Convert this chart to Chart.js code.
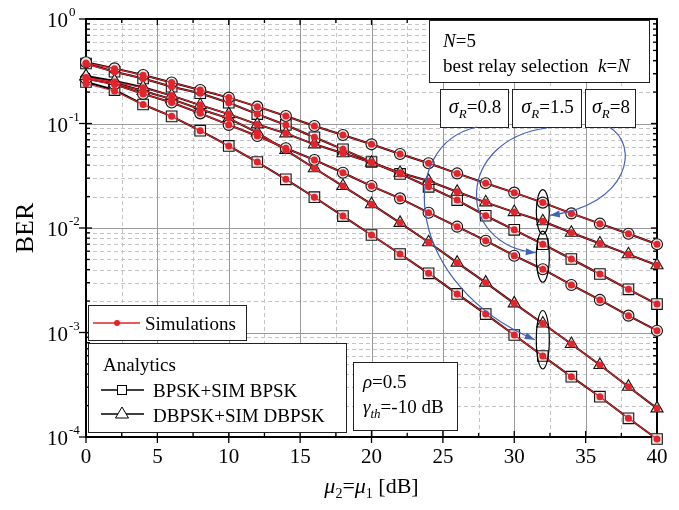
<!DOCTYPE html>
<html><head><meta charset="utf-8">
<script src="https://cdn.jsdelivr.net/npm/chart.js@4.4.1/dist/chart.umd.min.js"></script>
<style>html,body{margin:0;padding:0;background:#fff}#wrap{width:679px;height:510px}</style>
</head><body><div id="wrap"><canvas id="c" width="679" height="510"></canvas></div>
<script>
// ---------- data ----------
const snrDb = [0,2,4,6,8,10,12,14,16,18,20,22,24,26,28,30,32,34,36,38,40];
const xTickLabels = [0,5,10,15,20,25,30,35,40];
const yTickExponents = [0,-1,-2,-3,-4];

// analytic curves (markers as in the figure)
const sig8Circ  = [0.385,0.337,0.291,0.247,0.209,0.177,0.145,0.118,0.0946,0.0776,0.0632,0.051,0.0416,0.0333,0.0268,0.0218,0.0175,0.0138,0.0110,0.0088,0.0070];
const sig8Tri   = [0.285,0.255,0.222,0.185,0.150,0.123,0.098,0.0805,0.0632,0.0519,0.0422,0.0338,0.0282,0.0222,0.0176,0.0142,0.0116,0.0090,0.0071,0.0056,0.0044];
const sig15Sq   = [0.375,0.313,0.270,0.225,0.195,0.158,0.123,0.0968,0.0738,0.0566,0.0428,0.0329,0.0248,0.0185,0.0131,0.0096,0.0070,0.00505,0.00363,0.00259,0.00187];
const sig15Circ = [0.270,0.237,0.192,0.159,0.125,0.097,0.076,0.058,0.0448,0.0338,0.0252,0.0192,0.0140,0.0103,0.00756,0.00543,0.00403,0.00285,0.00205,0.00145,0.00104];
const sig08Tri  = [0.280,0.245,0.205,0.171,0.137,0.112,0.082,0.0557,0.0373,0.0252,0.0169,0.0112,0.0073,0.00466,0.0030,0.0019,0.00122,0.000776,0.000489,0.000303,0.000188];
const sig08Sq   = [0.250,0.209,0.152,0.117,0.0853,0.061,0.0428,0.0292,0.0197,0.0130,0.00857,0.00564,0.00368,0.00234,0.00150,0.000946,0.000596,0.000378,0.000243,0.000151,0.0000957];

// simulations
const simSig8Circ  = [0.380,0.335,0.290,0.247,0.209,0.177,0.145,0.118,0.0946,0.0776,0.0632,0.051,0.0416,0.0333,0.0268,0.0218,0.0175,0.0138,0.0110,0.0088,0.0070];
const simSig8Tri   = [0.275,0.250,0.220,0.185,0.150,0.123,0.098,0.0805,0.0632,0.0519,0.0422,0.0338,0.0282,0.0222,0.0176,0.0142,0.0116,0.0090,0.0071,0.0056,0.0044];
const simSig15Sq   = [0.370,0.312,0.270,0.225,0.195,0.158,0.123,0.0968,0.0738,0.0566,0.0428,0.0329,0.0248,0.0185,0.0131,0.0096,0.0070,0.00505,0.00363,0.00259,0.00187];
const simSig15Circ = [0.265,0.236,0.192,0.159,0.125,0.097,0.076,0.058,0.0448,0.0338,0.0252,0.0192,0.0140,0.0103,0.00756,0.00543,0.00403,0.00285,0.00205,0.00145,0.00104];
const simSig08Tri  = [0.272,0.243,0.205,0.171,0.137,0.112,0.082,0.0557,0.0373,0.0252,0.0169,0.0112,0.0073,0.00466,0.0030,0.0019,0.00122,0.000776,0.000489,0.000303,0.000188];
const simSig08Sq   = [0.240,0.205,0.152,0.117,0.0853,0.061,0.0428,0.0292,0.0197,0.0130,0.00857,0.00564,0.00368,0.00234,0.00150,0.000946,0.000596,0.000378,0.000243,0.000151,0.0000957];

const ellipseX = 32; // SNR where the groups are marked

// ---------- helpers ----------
const SERIF = '"Liberation Serif","Times New Roman",serif';
const RED = '#e3242b', BLUE = '#4462b4';
function fnt(s, it){ return (it?'italic ':'') + s + 'px ' + SERIF; }
function rich(ctx, x, y, parts, align, base){
  base = base || 19;
  let w = 0;
  for (const p of parts){ ctx.font = fnt(p.s||base, p.i); w += ctx.measureText(p.t).width; }
  let cx = align==='right' ? x-w : align==='center' ? x-w/2 : x;
  for (const p of parts){ ctx.font = fnt(p.s||base, p.i); ctx.fillText(p.t, cx, y+(p.dy||0)); cx += ctx.measureText(p.t).width; }
}
const pts = arr => snrDb.map((x,i)=>({x:x, y:arr[i]}));
function ana(arr, style, r){
  return {data:pts(arr), borderColor:'#000', borderWidth:2, pointStyle:style, pointRadius:r, pointHoverRadius:r,
    pointBackgroundColor:'rgba(235,235,235,0.95)', pointBorderColor:'#111', pointBorderWidth:1.1, order:1, clip:false, tension:0};
}
function sim(arr){
  return {data:pts(arr), borderColor:RED, borderWidth:1.1, pointStyle:'circle', pointRadius:3.5, pointHoverRadius:3.5,
    pointBackgroundColor:RED, pointBorderColor:RED, pointBorderWidth:0, order:0, clip:false, tension:0};
}

// ---------- plugin: grid, axes, annotations ----------
const deco = {
  id:'deco',
  beforeDatasetsDraw(chart){
    const ctx = chart.ctx, a = chart.chartArea, xs = chart.scales.x, ys = chart.scales.y;
    ctx.save();
    ctx.lineWidth = 1;
    // minor (dashed) grid
    ctx.strokeStyle = '#c4c4c4'; ctx.setLineDash([4,3]);
    for (let i=0;i<xTickLabels.length-1;i++){
      const px = Math.round(xs.getPixelForValue((xTickLabels[i]+xTickLabels[i+1])/2))+0.5;
      ctx.beginPath(); ctx.moveTo(px,a.top); ctx.lineTo(px,a.bottom); ctx.stroke();
    }
    for (let k=0;k<yTickExponents.length-1;k++){
      const d = Math.pow(10, yTickExponents[k+1]);
      for (let m=2;m<=9;m++){
        const py = Math.round(ys.getPixelForValue(m*d))+0.5;
        ctx.beginPath(); ctx.moveTo(a.left,py); ctx.lineTo(a.right,py); ctx.stroke();
      }
    }
    // major (solid) grid
    ctx.setLineDash([]); ctx.strokeStyle = '#9a9a9a';
    for (const v of xTickLabels){
      const px = Math.round(xs.getPixelForValue(v))+0.5;
      ctx.beginPath(); ctx.moveTo(px,a.top); ctx.lineTo(px,a.bottom); ctx.stroke();
    }
    for (const e of yTickExponents){
      const py = Math.round(ys.getPixelForValue(Math.pow(10,e)))+0.5;
      ctx.beginPath(); ctx.moveTo(a.left,py); ctx.lineTo(a.right,py); ctx.stroke();
    }
    // frame
    ctx.strokeStyle = '#000'; ctx.lineWidth = 2;
    ctx.strokeRect(a.left, a.top, a.right-a.left, a.bottom-a.top);
    // ticks
    ctx.lineWidth = 1.3;
    const line=(x1,y1,x2,y2)=>{ctx.beginPath();ctx.moveTo(x1,y1);ctx.lineTo(x2,y2);ctx.stroke();};
    for (const v of xTickLabels){
      const px = xs.getPixelForValue(v);
      line(px,a.bottom+6,px,a.bottom-6); line(px,a.top,px,a.top+6);
    }
    for (let i=0;i<xTickLabels.length-1;i++){
      const px = xs.getPixelForValue((xTickLabels[i]+xTickLabels[i+1])/2);
      line(px,a.bottom,px,a.bottom-4); line(px,a.top,px,a.top+4);
    }
    for (const e of yTickExponents){
      const py = ys.getPixelForValue(Math.pow(10,e));
      line(a.left-7,py,a.left+6,py); line(a.right,py,a.right-6,py);
    }
    for (let k=0;k<yTickExponents.length-1;k++){
      const d = Math.pow(10, yTickExponents[k+1]);
      for (let m=2;m<=9;m++){
        const py = ys.getPixelForValue(m*d);
        line(a.left,py,a.left+4,py); line(a.right,py,a.right-4,py);
      }
    }
    // tick labels
    ctx.fillStyle = '#000'; ctx.textBaseline = 'alphabetic';
    ctx.textAlign = 'center'; ctx.font = fnt(21);
    for (const v of xTickLabels){ ctx.fillText(String(v), xs.getPixelForValue(v), a.bottom+26); }
    ctx.textAlign = 'left';
    for (const e of yTickExponents){
      const py = ys.getPixelForValue(Math.pow(10,e));
      ctx.font = fnt(21); ctx.fillText('10', 47, py+8);
      ctx.font = fnt(13); ctx.fillText(e===0?'0':'-'+(-e), 69, py-3);
    }
    // axis titles
    ctx.save(); ctx.translate(24, (a.top+a.bottom)/2); ctx.rotate(-Math.PI/2);
    ctx.textAlign='center'; ctx.font = fnt(26); ctx.fillText('BER', 0, 9); ctx.restore();
    ctx.textAlign='left';
    rich(ctx, (a.left+a.right)/2, a.bottom+56, [
      {t:'\u03bc',i:true},{t:'2',s:14,dy:5},{t:'='},{t:'\u03bc',i:true},{t:'1',s:14,dy:5},{t:' [dB]'}], 'center', 22);
    ctx.restore();
  },
  afterDatasetsDraw(chart){
    const ctx = chart.ctx, a = chart.chartArea, xs = chart.scales.x, ys = chart.scales.y;
    ctx.save();
    ctx.fillStyle='#000'; ctx.textAlign='left'; ctx.textBaseline='alphabetic';
    const box=(x,y,w,h)=>{ctx.fillStyle='#fff';ctx.fillRect(x,y,w,h);ctx.strokeStyle='#222';ctx.lineWidth=1;ctx.strokeRect(x+0.5,y+0.5,w,h);ctx.fillStyle='#000';};
    // top-right box
    box(429,20,220,62);
    rich(ctx,443,47,[{t:'N',i:true},{t:'=5'}]);
    rich(ctx,443,72,[{t:'best relay selection  '},{t:'k',i:true},{t:'='},{t:'N',i:true}]);
    // sigma boxes
    const sb = [{x:440,w:68,v:'=0.8'},{x:512,w:69,v:'=1.5'},{x:585,w:50,v:'=8'}];
    for (const b of sb){
      box(b.x,89,b.w,38);
      rich(ctx,b.x+b.w/2+1,113,[{t:'\u03c3',i:true,s:20},{t:'R',i:true,s:13,dy:5},{t:b.v}],'center',19);
    }
    // ellipses around groups at SNR = ellipseX
    const idx = snrDb.indexOf(ellipseX);
    const ex = xs.getPixelForValue(ellipseX);
    const groups = [[sig8Circ,sig8Tri],[sig15Sq,sig15Circ],[sig08Tri,sig08Sq]];
    const ell = groups.map(g=>{
      const y1 = ys.getPixelForValue(Math.max(g[0][idx],g[1][idx]));
      const y2 = ys.getPixelForValue(Math.min(g[0][idx],g[1][idx]));
      return {top:y1-13, bot:y2+13};
    });
    ctx.strokeStyle='#000'; ctx.lineWidth=1.2;
    for (const e of ell){
      ctx.beginPath(); ctx.ellipse(ex,(e.top+e.bot)/2,6.5,(e.bot-e.top)/2,0,0,Math.PI*2); ctx.stroke();
    }
    // blue arrows
    const arrow=(p0,c1,c2,p1)=>{
      ctx.strokeStyle=BLUE; ctx.fillStyle=BLUE; ctx.lineWidth=1.2;
      ctx.beginPath(); ctx.moveTo(p0[0],p0[1]); ctx.bezierCurveTo(c1[0],c1[1],c2[0],c2[1],p1[0],p1[1]); ctx.stroke();
      const ang = Math.atan2(p1[1]-c2[1], p1[0]-c2[0]);
      const L=10, W=3.5;
      ctx.beginPath(); ctx.moveTo(p1[0],p1[1]);
      ctx.lineTo(p1[0]-L*Math.cos(ang)+W*Math.sin(ang), p1[1]-L*Math.sin(ang)-W*Math.cos(ang));
      ctx.lineTo(p1[0]-L*Math.cos(ang)-W*Math.sin(ang), p1[1]-L*Math.sin(ang)+W*Math.cos(ang));
      ctx.closePath(); ctx.fill();
    };
    const mid = e=>(e.top+e.bot)/2;
    arrow([477,127],[395,145],[405,285],[ex-8, mid(ell[2])]);
    arrow([547,128],[455,140],[455,245],[ex-7, mid(ell[1])-4]);
    arrow([609,127],[640,145],[630,205],[ex+7, ys.getPixelForValue(sig8Tri[idx])-6]);
    // legend: simulations
    box(88,305,158,35);
    ctx.strokeStyle=RED; ctx.lineWidth=1.3; ctx.beginPath(); ctx.moveTo(93,323); ctx.lineTo(140,323); ctx.stroke();
    ctx.fillStyle=RED; ctx.beginPath(); ctx.arc(117,323,3,0,Math.PI*2); ctx.fill();
    ctx.fillStyle='#000'; rich(ctx,145,330,[{t:'Simulations'}]);
    // legend: analytics
    box(88,343,258,89);
    rich(ctx,103,371,[{t:'Analytics'}]);
    ctx.strokeStyle='#000'; ctx.lineWidth=1.5;
    ctx.beginPath(); ctx.moveTo(101,390); ctx.lineTo(144,390); ctx.stroke();
    ctx.fillStyle='#fff'; ctx.fillRect(117.5,385.5,9,9); ctx.lineWidth=1; ctx.strokeRect(117.5,385.5,9,9);
    ctx.fillStyle='#000'; rich(ctx,153,397,[{t:'BPSK+SIM BPSK'}]);
    ctx.lineWidth=1.5; ctx.beginPath(); ctx.moveTo(101,414); ctx.lineTo(144,414); ctx.stroke();
    ctx.fillStyle='#fff'; ctx.beginPath(); ctx.moveTo(122,407); ctx.lineTo(128.5,418); ctx.lineTo(115.5,418); ctx.closePath(); ctx.fill();
    ctx.lineWidth=1; ctx.stroke();
    ctx.fillStyle='#000'; rich(ctx,153,422,[{t:'DBPSK+SIM DBPSK'}]);
    // rho box
    box(353,362,104,68);
    rich(ctx,363,388,[{t:'\u03c1',i:true},{t:'=0.5'}]);
    rich(ctx,363,413,[{t:'\u03b3',i:true},{t:'th',i:true,s:13,dy:5},{t:'=-10 dB'}]);
    ctx.restore();
  }
};

new Chart(document.getElementById('c'), {
  type:'line',
  data:{datasets:[
    sim(simSig8Circ), sim(simSig8Tri), sim(simSig15Sq), sim(simSig15Circ), sim(simSig08Tri), sim(simSig08Sq),
    ana(sig8Circ,'circle',5.5), ana(sig8Tri,'triangle',7), ana(sig15Sq,'rect',7.5),
    ana(sig15Circ,'circle',5.5), ana(sig08Tri,'triangle',7), ana(sig08Sq,'rect',7.5)
  ]},
  options:{
    responsive:false, animation:false, devicePixelRatio:1,
    layout:{padding:{left:86,right:22,top:19,bottom:73}},
    scales:{
      x:{type:'linear',min:0,max:40,display:false},
      y:{type:'logarithmic',min:1e-4,max:1,display:false}
    },
    plugins:{legend:{display:false},tooltip:{enabled:false}}
  },
  plugins:[deco]
});
</script>
</body></html>
